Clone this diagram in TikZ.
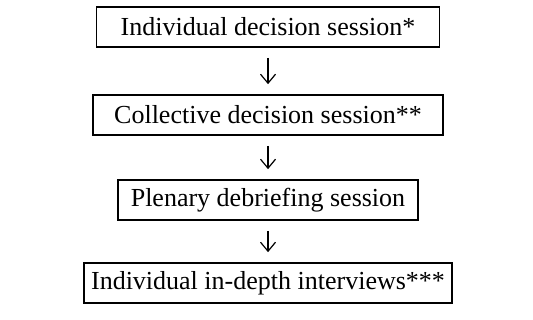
\documentclass[tikz,border=0pt]{standalone}
\usepackage{fontspec}
\setmainfont{Liberation Serif}
\usetikzlibrary{arrows.meta}
\begin{document}
\begin{tikzpicture}[x=1pt,y=-1pt,
  stagebox/.style={draw, line width=1.7pt, minimum height=40pt, inner sep=0pt,
    font=\fontsize{26}{30}\selectfont, anchor=center},
  flowarrow/.style={line width=1.2pt, -{Straight Barb[length=9pt,width=15pt,line width=1.2pt]},
    shorten <=10pt, shorten >=10pt}]
  \useasboundingbox (0,0) rectangle (533,320);
  \node[stagebox, minimum width=343pt] (s1) at (268,27) {Individual decision session*};
  \node[stagebox, minimum width=350pt] (s2) at (268,115) {Collective decision session**};
  \node[stagebox, minimum width=300pt] (s3) at (268,200) {Plenary debriefing session};
  \node[stagebox, minimum width=368pt] (s4) at (268,283) {Individual in-depth interviews***};
  \draw[flowarrow] (s1) -- (s2);
  \draw[flowarrow] (s2) -- (s3);
  \draw[flowarrow] (s3) -- (s4);
\end{tikzpicture}
\end{document}
